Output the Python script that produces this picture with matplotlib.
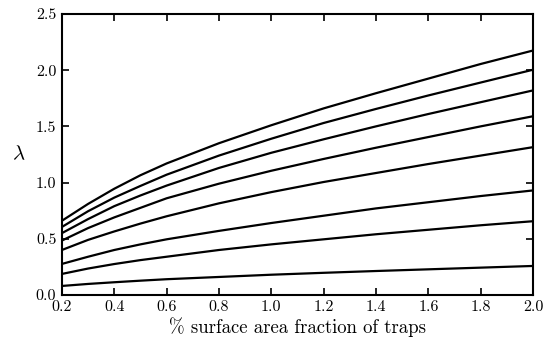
import numpy as np
import matplotlib
matplotlib.use("Agg")
import matplotlib.pyplot as plt

# trap surface area fraction (%)
frac = [0.2, 0.3, 0.4, 0.5, 0.6, 0.8, 1.0, 1.2, 1.4, 1.6, 1.8, 2.0]

# lambda curves, top to bottom
lam_a = [0.66, 0.81, 0.945, 1.065, 1.17, 1.35, 1.51, 1.66, 1.795, 1.925, 2.055, 2.175]
lam_b = [0.605, 0.745, 0.866, 0.97, 1.07, 1.24, 1.39, 1.53, 1.655, 1.775, 1.89, 2.004]
lam_c = [0.55, 0.675, 0.79, 0.885, 0.973, 1.13, 1.265, 1.385, 1.50, 1.61, 1.715, 1.82]
lam_d = [0.484, 0.595, 0.69, 0.775, 0.86, 0.99, 1.105, 1.21, 1.31, 1.405, 1.50, 1.59]
lam_e = [0.40, 0.49, 0.565, 0.635, 0.70, 0.815, 0.915, 1.005, 1.085, 1.165, 1.24, 1.315]
lam_f = [0.276, 0.34, 0.40, 0.45, 0.495, 0.57, 0.64, 0.705, 0.77, 0.825, 0.88, 0.93]
lam_g = [0.187, 0.235, 0.275, 0.31, 0.34, 0.40, 0.45, 0.495, 0.54, 0.58, 0.62, 0.656]
lam_h = [0.08, 0.098, 0.113, 0.127, 0.14, 0.16, 0.18, 0.197, 0.213, 0.228, 0.243, 0.258]

curves = [lam_a, lam_b, lam_c, lam_d, lam_e, lam_f, lam_g, lam_h]

plt.rcParams['font.family'] = 'serif'
plt.rcParams['font.serif'] = ['cmr10', 'DejaVu Serif']
plt.rcParams['mathtext.fontset'] = 'cm'
plt.rcParams['axes.formatter.use_mathtext'] = True

fig = plt.figure(figsize=(5.43, 3.47), dpi=100)
ax = fig.add_axes([0.114, 0.150, 0.8676, 0.8097])

for c in curves:
    ax.plot(frac, c, color='black', lw=1.6)

ax.set_xlim(0.2, 2.0)
ax.set_ylim(0.0, 2.5)
ax.set_xticks(np.arange(0.2, 2.01, 0.2))
ax.set_yticks(np.arange(0.0, 2.51, 0.5))
ax.set_xticklabels(['%.1f' % v for v in np.arange(0.2, 2.01, 0.2)])
ax.set_yticklabels(['%.1f' % v for v in np.arange(0.0, 2.51, 0.5)])
ax.tick_params(direction='in', top=True, right=True, length=5, width=1.2,
               labelsize=11.5, pad=4)
for s in ax.spines.values():
    s.set_linewidth(1.5)

ax.set_xlabel('% surface area fraction of traps', fontsize=13.5, labelpad=2)
ax.set_ylabel(r'$\lambda$', fontsize=15, rotation=0, labelpad=12, va='center')

fig.savefig('out.png', dpi=100)
